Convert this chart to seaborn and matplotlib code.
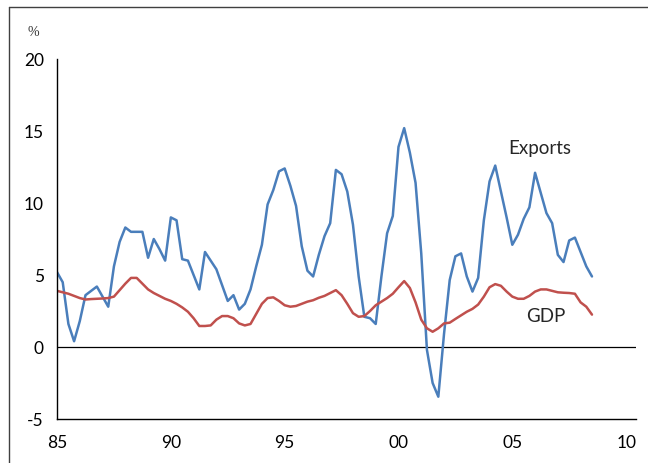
import matplotlib
matplotlib.use("Agg")
import matplotlib.pyplot as plt
from matplotlib.lines import Line2D
import seaborn as sns
import numpy as np
import pandas as pd

# quarterly, 1985 Q1 .. 2008 Q3, % change y/y
quarters = np.arange(1985, 2008.51, 0.25)

exports = [
    5.2, 4.5, 1.6, 0.4,      # 1985
    1.8, 3.6, 3.9, 4.2,      # 1986
    3.5, 2.8, 5.6, 7.3,      # 1987
    8.3, 8.0, 8.0, 8.0,      # 1988
    6.2, 7.5, 6.8, 6.0,      # 1989
    9.0, 8.8, 6.1, 6.0,      # 1990
    5.0, 4.0, 6.6, 6.0,      # 1991
    5.4, 4.3, 3.2, 3.6,      # 1992
    2.6, 3.0, 4.0, 5.6,      # 1993
    7.1, 9.9, 10.9, 12.2,    # 1994
    12.4, 11.2, 9.8, 7.0,    # 1995
    5.3, 4.9, 6.4, 7.7,      # 1996
    8.6, 12.3, 12.0, 10.8,   # 1997
    8.5, 4.9, 2.1, 2.0,      # 1998
    1.6, 4.9, 7.9, 9.1,      # 1999
    13.9, 15.2, 13.5, 11.4,  # 2000
    6.5, -0.2, -2.5, -3.45,  # 2001
    0.9, 4.65, 6.3, 6.5,     # 2002
    4.9, 3.85, 4.8, 8.8,     # 2003
    11.5, 12.6, 10.8, 9.0,   # 2004
    7.1, 7.8, 8.9, 9.7,      # 2005
    12.1, 10.7, 9.3, 8.6,    # 2006
    6.4, 5.9, 7.4, 7.6,      # 2007
    6.6, 5.6, 4.9,           # 2008
]

gdp = [
    3.9, 3.8, 3.7, 3.55,     # 1985
    3.4, 3.3, 3.33, 3.35,    # 1986
    3.37, 3.4, 3.5, 3.95,    # 1987
    4.4, 4.8, 4.8, 4.4,      # 1988
    4.0, 3.75, 3.55, 3.35,   # 1989
    3.2, 3.0, 2.75, 2.45,    # 1990
    2.0, 1.46, 1.46, 1.5,    # 1991
    1.9, 2.15, 2.15, 2.0,    # 1992
    1.64, 1.5, 1.6, 2.3,     # 1993
    3.0, 3.4, 3.45, 3.2,     # 1994
    2.9, 2.8, 2.85, 3.0,     # 1995
    3.15, 3.25, 3.42, 3.55,  # 1996
    3.75, 3.95, 3.6, 3.0,    # 1997
    2.35, 2.1, 2.15, 2.5,    # 1998
    2.9, 3.15, 3.4, 3.7,     # 1999
    4.15, 4.58, 4.1, 3.1,    # 2000
    1.9, 1.3, 1.06, 1.3,     # 2001
    1.64, 1.69, 1.95, 2.2,   # 2002
    2.45, 2.65, 2.95, 3.5,   # 2003
    4.15, 4.37, 4.25, 3.85,  # 2004
    3.5, 3.35, 3.35, 3.55,   # 2005
    3.85, 4.0, 4.0, 3.9,     # 2006
    3.8, 3.77, 3.75, 3.7,    # 2007
    3.1, 2.8, 2.25,          # 2008
]

xticks = [1985, 1990, 1995, 2000, 2005, 2010]
xtick_labels = ["85", "90", "95", "00", "05", "10"]
yticks = [-5, 0, 5, 10, 15, 20]

df = pd.DataFrame({"date": quarters, "Exports": exports, "GDP": gdp})

sns.set_style("white")
plt.rcParams["font.family"] = ["Lato", "DejaVu Sans"]
plt.rcParams["axes.unicode_minus"] = False

fig = plt.figure(figsize=(6.48, 4.63), dpi=100)
ax = fig.add_axes([0.088, 0.095, 0.893, 0.7775])

sns.lineplot(data=df, x="date", y="Exports", ax=ax, color="#4a7ebb", linewidth=1.8)
sns.lineplot(data=df, x="date", y="GDP", ax=ax, color="#c0504d", linewidth=1.8)

ax.axhline(0, color="black", linewidth=0.9, zorder=1)

ax.set_xlim(1985, 2010.42)
ax.set_ylim(-5, 20)
ax.set_xticks(xticks)
ax.set_xticklabels(xtick_labels)
ax.set_yticks(yticks)
ax.set_xlabel("")
ax.set_ylabel("")

for side in ["top", "right"]:
    ax.spines[side].set_visible(False)
for side in ["left", "bottom"]:
    ax.spines[side].set_color("black")
    ax.spines[side].set_linewidth(1.0)

ax.tick_params(axis="both", direction="out", length=5.5, width=1.0,
               color="black", labelsize=12.5, labelcolor="black", pad=4)
ax.tick_params(axis="x", pad=6)

ax.text(2004.8, 13.8, "Exports", fontsize=13.5, va="center", ha="left")
ax.text(2005.6, 2.15, "GDP", fontsize=13.5, va="center", ha="left")

fig.text(33 / 648, 1 - 33 / 463, "%", fontsize=10, family="Liberation Serif",
         ha="center", va="center", color="#333333")

# outer frame (only left and top edges fall inside the image)
fig.add_artist(Line2D([9 / 648, 9 / 648], [0, 1 - 7 / 463], transform=fig.transFigure,
                      color="#404040", linewidth=1.0))
fig.add_artist(Line2D([9 / 648, 1], [1 - 7 / 463, 1 - 7 / 463], transform=fig.transFigure,
                      color="#404040", linewidth=1.0))

fig.savefig("out.png", dpi=100)
plt.close(fig)
